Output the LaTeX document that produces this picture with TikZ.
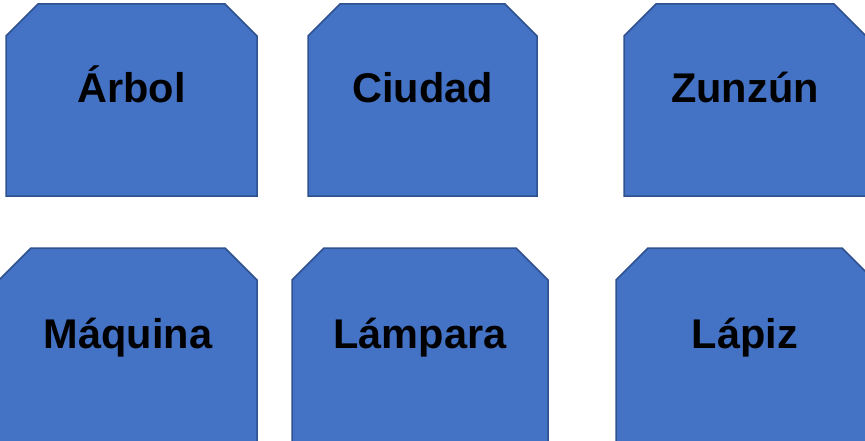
\documentclass[tikz,border=0pt]{standalone}
\usepackage{fontspec}
\setmainfont{Liberation Sans}
\definecolor{boxfill}{HTML}{4472C4}
\definecolor{boxline}{HTML}{2F528F}
\tikzset{
  cutbox/.style={fill=boxfill, draw=boxline, line width=1.5pt, line join=miter},
  word/.style={anchor=base, inner sep=0pt, font=\fontsize{41.5}{45}\selectfont\bfseries, text=black}
}
\newcommand{\cutrect}[4]{% left, right, top, bottom (y up)
  \path[cutbox] (#1,#4) -- (#1,#3-32) -- (#1+32,#3) -- (#2-32,#3) -- (#2,#3-32) -- (#2,#4) -- cycle;
}
\begin{document}
\begin{tikzpicture}[x=1pt,y=1pt]
\useasboundingbox (0,0) rectangle (865,440);
\clip (0,0) rectangle (865,440);
% top row (y_tikz = 440 - y_px)
\cutrect{6}{257}{436}{244}
\cutrect{308}{537}{436}{244}
\cutrect{624}{866}{436}{244}
% bottom row
\cutrect{-1}{257}{192}{-4}
\cutrect{292}{548}{192}{-4}
\cutrect{616}{874}{192}{-4}
\node[word] (arbol) at (131.5,337) {Árbol};
\node[word] (ciudad) at (422.5,337) {Ciudad};
\node[word] (zunzun) at (745,337) {Zunzún};
\node[word] (maquina) at (128,92) {Máquina};
\node[word] (lampara) at (420,92) {Lámpara};
\node[word] (lapiz) at (745,92) {Lápiz};
\end{tikzpicture}
\end{document}
